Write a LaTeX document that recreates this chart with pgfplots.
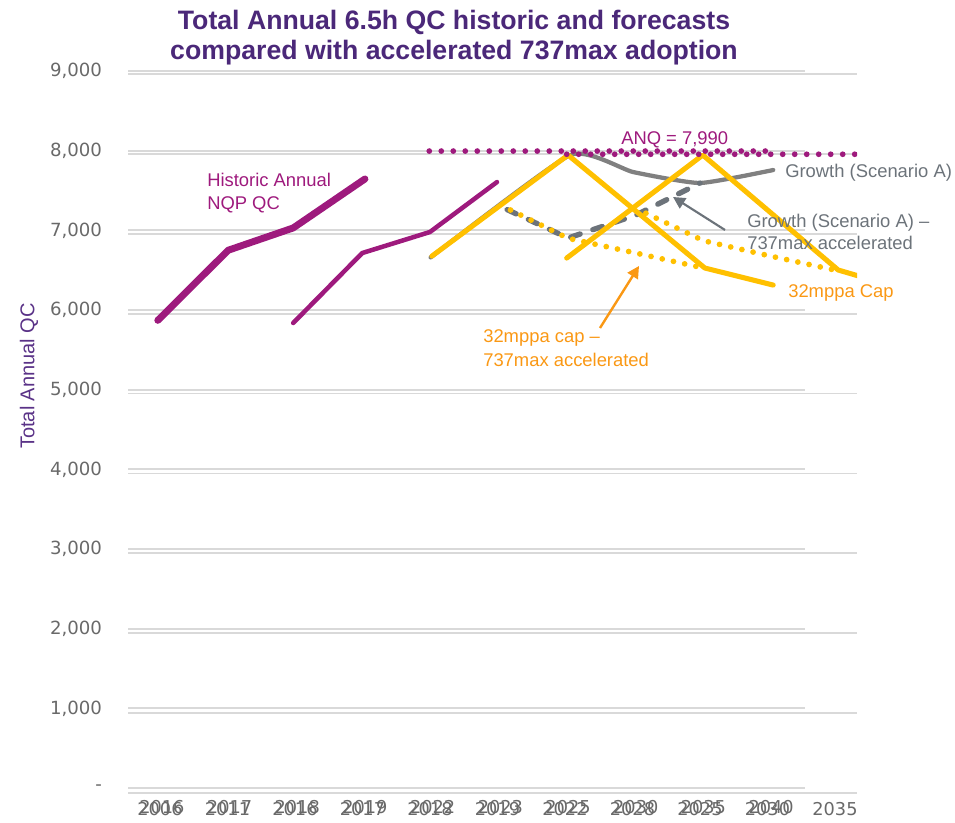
\documentclass[border=0pt]{standalone}
\usepackage{fontspec}
\setmainfont{Liberation Sans}
\newfontfamily\tickfont{DejaVu Sans}
\usepackage{pgfplots}
\pgfplotsset{compat=1.18}
\usetikzlibrary{arrows.meta}
\definecolor{nqp}{RGB}{158,26,125}
\definecolor{titlepurple}{RGB}{75,40,121}
\definecolor{ylabpurple}{RGB}{90,50,135}
\definecolor{gridgray}{RGB}{217,217,217}
\definecolor{tickgray}{RGB}{105,105,105}
\definecolor{capyellow}{RGB}{255,192,0}
\definecolor{growthgray}{RGB}{128,128,128}
\definecolor{accgray}{RGB}{108,115,122}
\definecolor{annorange}{RGB}{250,152,20}
\begin{document}
\begin{tikzpicture}[x=0.75pt,y=0.75pt]
\path[use as bounding box] (0,0) rectangle (955,823);
% ---- back grid / second set of year labels
\begin{axis}[at={(96pt,22.5pt)}, anchor=south west, scale only axis,
  width=546.75pt, height=539.25pt,
  xmin=-0.474, xmax=10.326, ymin=0, ymax=9000,
  axis line style={draw=none}, major tick length=0pt,
  ytick={0,1000,...,9000}, yticklabels={},
  ymajorgrids, grid style={gridgray, line width=1.3pt},
  xtick={0,...,10},
  xticklabels={2006,2011,2016,2017,2018,2019,2022,2028,2025,2030,2035},
  xticklabel style={font=\tickfont\fontsize{13.3}{15}\selectfont, text=tickgray, yshift=-3.2pt},
]
\end{axis}
% ---- front grid / first set of year labels, y labels
\begin{axis}[at={(96pt,26.25pt)}, anchor=south west, scale only axis,
  width=507.75pt, height=537.75pt,
  xmin=-0.5, xmax=9.5, ymin=0, ymax=9000,
  axis line style={draw=none}, major tick length=0pt,
  ytick={0,1000,...,9000},
  yticklabels={{-},{1,000},{2,000},{3,000},{4,000},{5,000},{6,000},{7,000},{8,000},{9,000}},
  yticklabel style={font=\tickfont\fontsize{13.6}{15}\selectfont, text=tickgray, xshift=-16pt},
  ymajorgrids, grid style={gridgray, line width=1.3pt},
  xtick={0,...,9},
  xticklabels={2016,2017,2018,2019,2022,2023,2025,2030,2035,2040},
  xticklabel style={font=\tickfont\fontsize{13.3}{15}\selectfont, text=tickgray, yshift=-5.5pt},
]
\end{axis}
% ---- data
\begin{axis}[at={(96pt,26.25pt)}, anchor=south west, scale only axis,
  width=546.75pt, height=537.75pt,
  xmin=-0.5, xmax=10.268, ymin=0, ymax=9000,
  axis line style={draw=none}, xtick=\empty, ytick=\empty,
]
% Historic annual NQP QC (two copies)
\addplot[nqp, line width=5.2pt, line cap=round, line join=round] coordinates {(-0.06,5870) (0.98,6750) (1.94,7030) (3.0,7645)};
\addplot[nqp, line width=3.4pt, line cap=round, line join=round] coordinates {(1.94,5837) (2.96,6715) (3.96,6979) (4.95,7606)};
% Growth (Scenario A)
\addplot[growthgray, line width=3.2pt, line cap=round, line join=round, smooth, tension=0.3] coordinates {(3.97,6660) (6.03,7945) (6.96,7732) (7.95,7594) (9.03,7757)};
% Growth (Scenario A) - 737max accelerated
\addplot[accgray, line width=4pt, line cap=round, dash pattern=on 7.5pt off 10pt] coordinates {(5.1,7260) (6.0,6903) (7.0,7190) (7.95,7594)};
% 32mppa cap - 737max accelerated (two copies)
\addplot[capyellow, line width=4.3pt, line cap=round, dash pattern=on 0pt off 8.6pt] coordinates {(5.15,7255) (6.0,6900) (7.0,6715) (8.0,6527)};
\addplot[capyellow, line width=4.3pt, line cap=round, dash pattern=on 0pt off 8.6pt] coordinates {(7.15,7215) (8.0,6870) (9.0,6675) (10.0,6490)};
% 32mppa Cap (two copies)
\addplot[capyellow, line width=3.8pt, line cap=round, line join=round] coordinates {(3.99,6677) (6.0,7945) (8.02,6527) (9.03,6313)};
\addplot[capyellow, line width=3.8pt, line cap=round, line join=round] coordinates {(5.98,6652) (7.99,7945) (9.99,6502) (11.0,6250)};
% ANQ = 7,990 (two copies)
\addplot[nqp, line width=4.3pt, line cap=round, dash pattern=on 0pt off 9pt] coordinates {(3.95,7995) (9.0,7995)};
\addplot[nqp, line width=4.3pt, line cap=round, dash pattern=on 0pt off 9pt] coordinates {(5.98,7955) (11.0,7955)};
\end{axis}
% ---- titles and annotations
\node[align=center, font=\bfseries\fontsize{20}{22.5}\selectfont, text=titlepurple] at (454,785) {Total Annual 6.5h QC historic and forecasts\\compared with accelerated 737max adoption};
\node[rotate=90, font=\fontsize{15}{18}\selectfont, text=ylabpurple] at (29,447) {Total Annual QC};
\begin{scope}[font=\fontsize{13.8}{16}\selectfont]
\node[anchor=base west, inner sep=0pt, text=nqp] at (207,636) {Historic Annual};
\node[anchor=base west, inner sep=0pt, text=nqp] at (207,613) {NQP QC};
\node[anchor=base west, inner sep=0pt, text=nqp] at (621,678) {ANQ = 7,990};
\node[anchor=base west, inner sep=0pt, text=accgray] at (785,645) {Growth (Scenario A)};
\node[anchor=base west, inner sep=0pt, text=accgray] at (747,595) {Growth (Scenario A) --};
\node[anchor=base west, inner sep=0pt, text=accgray] at (747,573) {737max accelerated};
\node[anchor=base west, inner sep=0pt, text=annorange] at (788,525) {32mppa Cap};
\node[anchor=base west, inner sep=0pt, text=annorange] at (483,480) {32mppa cap --};
\node[anchor=base west, inner sep=0pt, text=annorange] at (483,456) {737max accelerated};
\end{scope}
\draw[accgray, line width=1.6pt, -{Triangle[length=9pt,width=9pt]}] (725,593) -- (673,626);
\draw[annorange, line width=1.8pt, -{Triangle[length=9pt,width=9pt]}] (600,495) -- (639,557);
\end{tikzpicture}
\end{document}
